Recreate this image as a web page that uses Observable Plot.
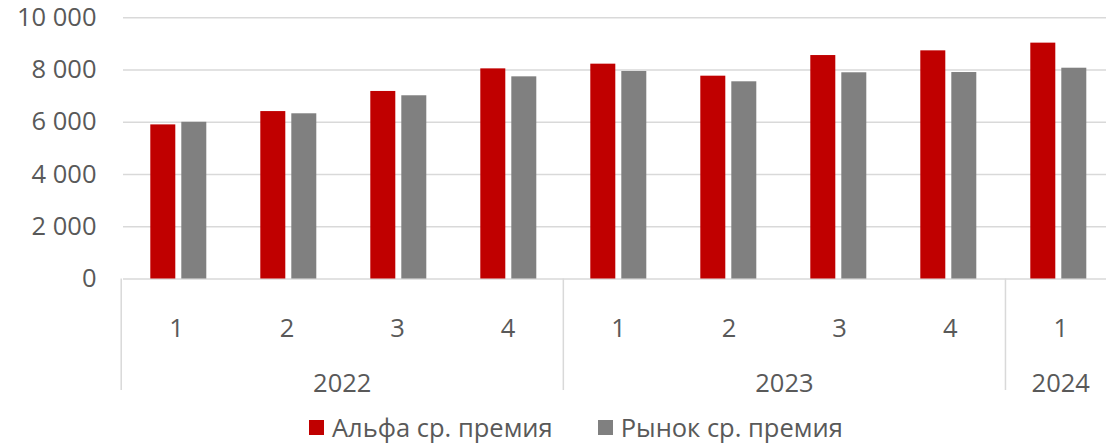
<!DOCTYPE html>
<html>
<head>
<meta charset="utf-8">
<script src="https://cdn.jsdelivr.net/npm/d3@7"></script>
<script src="https://cdn.jsdelivr.net/npm/@observablehq/plot@0.6"></script>
<style>
  body { margin: 0; background: #fff; font-family: "Open Sans", sans-serif; }
  #wrap { position: relative; width: 1106px; height: 408px; overflow: hidden; }
  #wrap svg { position: absolute; left: 0; top: 0; }
  #legend { display: flex; align-items: center; padding-left: 309px; height: 38px; font-size: 25.5px; color: #595959; }
  .item { display: flex; align-items: center; margin-right: 45px; }
  .sw { width: 15px; height: 15px; margin-right: 8px; }
</style>
</head>
<body>
<div id="wrap"></div>
<div id="legend"></div>
<script>
// ---- data ----
const years    = ["2022", "2022", "2022", "2022", "2023", "2023", "2023", "2023", "2024"];
const quarters = ["1", "2", "3", "4", "1", "2", "3", "4", "1"];
const alfa     = [5900, 6410, 7180, 8045, 8225, 7765, 8555, 8735, 9030];
const market   = [6000, 6325, 7015, 7740, 7945, 7550, 7895, 7905, 8070];
const seriesNames = ["Альфа ср. премия", "Рынок ср. премия"];
const seriesColors = ["#c00000", "#808080"];
const yTicks = [0, 2000, 4000, 6000, 8000, 10000];

// ---- derived tables ----
const keys = years.map((y, i) => `${y}-${quarters[i]}-${i}`);
const rows = keys.flatMap((k, i) => [
  {key: k, series: seriesNames[0], value: alfa[i]},
  {key: k, series: seriesNames[1], value: market[i]}
]);
const quarterRows = quarters.map((q, i) => ({i, q}));
const yearSpans = [];
years.forEach((y, i) => {
  const last = yearSpans[yearSpans.length - 1];
  if (last && last.year === y) last.end = i + 1;
  else yearSpans.push({year: y, start: i, end: i + 1});
});
const bounds = [...new Set(yearSpans.flatMap(d => [d.start, d.end]))];

const fmt = d => d3.format(",")(d).replace(/,/g, "\u00a0");
const xRange = [120.7, 1115.5];
const font = {fontFamily: "'Open Sans', sans-serif", fontSize: "25.5px", color: "#595959", background: "transparent", overflow: "visible"};

const chart = Plot.plot({
  width: 1106, height: 408,
  marginTop: 17.3, marginBottom: 129.5, marginLeft: 120.7, marginRight: 0,
  fx: {domain: keys, range: xRange, padding: 0, axis: null},
  x: {domain: seriesNames, paddingInner: 0.2, paddingOuter: 0.866, axis: null},
  y: {domain: [0, 10000], ticks: yTicks, tickFormat: fmt, tickSize: 0, tickPadding: 27, label: null},
  color: {domain: seriesNames, range: seriesColors},
  style: font,
  marks: [
    Plot.ruleY(yTicks, {stroke: "#d9d9d9", strokeWidth: 1.5}),
    Plot.barY(rows, {fx: "key", x: "series", y: "value", fill: "series"})
  ]
});

const axis = Plot.plot({
  width: 1106, height: 408,
  marginTop: 278.5, marginBottom: 18, marginLeft: 0, marginRight: 0,
  x: {domain: [0, keys.length], range: xRange, axis: null},
  y: {axis: null},
  style: font,
  marks: [
    Plot.ruleX(bounds, {stroke: "#d9d9d9", strokeWidth: 1.5}),
    Plot.text(quarterRows, {x: d => d.i + 0.5, text: "q", frameAnchor: "top", dy: 40, fill: "#595959"}),
    Plot.text(yearSpans, {x: d => (d.start + d.end) / 2, text: "year", frameAnchor: "top", dy: 95, fill: "#595959"})
  ]
});

const wrap = document.getElementById("wrap");
wrap.appendChild(chart);
wrap.appendChild(axis);

const legend = document.getElementById("legend");
seriesNames.forEach((name, i) => {
  const item = document.createElement("div");
  item.className = "item";
  const sw = document.createElement("span");
  sw.className = "sw";
  sw.style.background = seriesColors[i];
  const t = document.createElement("span");
  t.textContent = name;
  item.appendChild(sw);
  item.appendChild(t);
  legend.appendChild(item);
});
</script>
</body>
</html>
